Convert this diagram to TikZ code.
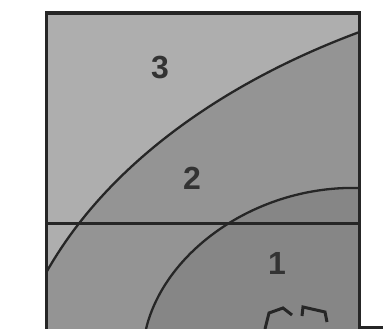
\documentclass[tikz,border=0pt]{standalone}
\usepackage{fontspec}
\setmainfont{Liberation Sans}
\definecolor{zoneA}{RGB}{174,174,174}
\definecolor{zoneB}{RGB}{148,148,148}
\definecolor{zoneC}{RGB}{134,134,134}
\tikzset{
  frame/.style={line width=3.6pt, draw=black!85},
  boundary/.style={line width=2.3pt, draw=black!85},
  zonelabel/.style={font=\bfseries\fontsize{32}{32}\selectfont, text=black!80, inner sep=0pt},
  tickmark/.style={line width=3pt, draw=black!85}
}
\begin{document}
\begin{tikzpicture}[x=1pt,y=-1pt]
\useasboundingbox (0,0) rectangle (383,329);
\coordinate (tl) at (46.5,13);
\coordinate (tr) at (359.5,13);
\coordinate (bl) at (46.5,329);
\coordinate (br) at (359.5,329);
\coordinate (ml) at (46.5,223.5);
\coordinate (mr) at (359.5,223.5);
\coordinate (c3a) at (359.5,32);
\coordinate (c3b) at (46.5,272);
\coordinate (c1a) at (359.5,188);
\coordinate (c1b) at (146,329);
% region 3 (whole box)
\fill[zoneA] (tl) rectangle (br);
% region 2
\fill[zoneB] (c3a) .. controls (230,80) and (110,160) .. (c3b) -- (bl) -- (br) -- cycle;
% region 1
\fill[zoneC] (c1a) .. controls (258,185) and (165,250) .. (c1b) -- (br) -- cycle;
% boundaries
\draw[boundary] (c3a) .. controls (230,80) and (110,160) .. (c3b);
\draw[boundary] (c1a) .. controls (258,185) and (165,250) .. (c1b);
% frame
\draw[frame] (bl) -- (tl) -- (tr) -- (br);
\draw[frame] (ml) -- (mr);
\coordinate (ea) at (361,327.5);
\coordinate (eb) at (383,327.5);
\draw[line width=2.4pt, draw=black!85] (ea) -- (eb);
% labels
\node[zonelabel] (l3) at (160,68) {3};
\node[zonelabel] (l2) at (192,178) {2};
\node[zonelabel] (l1) at (277,263) {1};
% bracket marks
\draw[tickmark] (265,329) -- (269,313) -- (283,308) -- (292,315);
\draw[tickmark] (302,316) -- (303,307) -- (325,312) -- (327,322);
\end{tikzpicture}
\end{document}
